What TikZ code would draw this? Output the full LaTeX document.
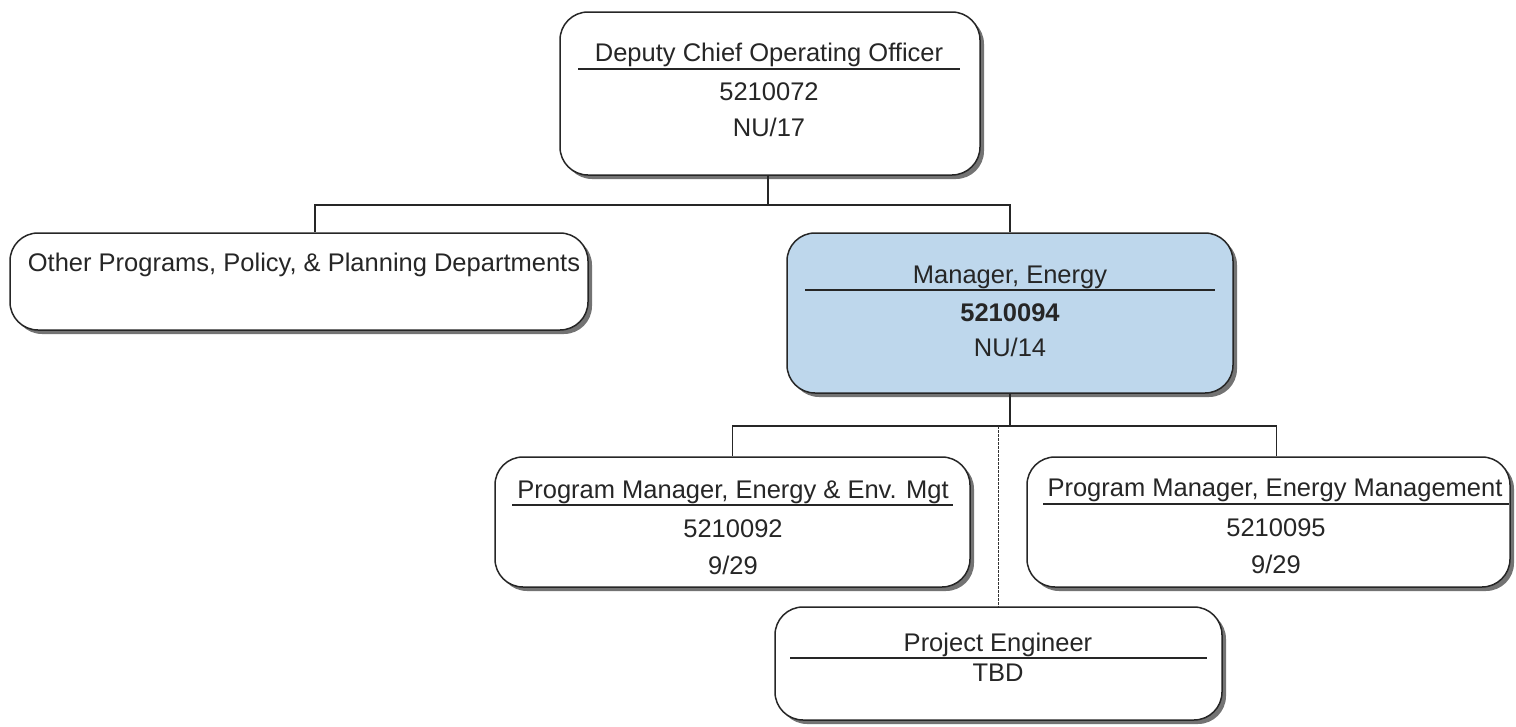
\documentclass[tikz,border=0pt]{standalone}
\usepackage{fontspec}
\setmainfont{Liberation Sans}
\usetikzlibrary{shadows}
\definecolor{mgrblue}{RGB}{190,215,236}
\definecolor{shadowgray}{RGB}{115,115,115}
\begin{document}
\begin{tikzpicture}[x=1pt,y=-1pt,
  box/.style={draw=black!85, line width=1.5pt, fill=white, rounded corners=28pt,
    rectangle, inner sep=0pt,
    drop shadow={shadow xshift=4pt, shadow yshift=-4pt, fill=shadowgray, opacity=1}},
  txt/.style={font=\fontsize{25.5}{30}\selectfont, text=black!85, inner sep=0pt},
  btxt/.style={txt, font=\fontsize{25.5}{30}\selectfont\bfseries},
  rule/.style={line width=1.7pt, black!85},
  conn/.style={line width=1.5pt, black!85},
  dconn/.style={line width=1.4pt, black!80, dash pattern=on 2.5pt off 1.5pt}]
\useasboundingbox (0,0) rectangle (1516,726);
% boxes
\node[box, minimum width=420pt, minimum height=163pt] (top) at (770,93.5) {};
\node[box, minimum width=578pt, minimum height=97pt] (other) at (299,281.5) {};
\node[box, fill=mgrblue, minimum width=446pt, minimum height=160pt] (mgr) at (1010,313) {};
\node[box, minimum width=475pt, minimum height=130pt] (pml) at (732.5,522) {};
\node[box, minimum width=483pt, minimum height=130pt] (pmr) at (1268.5,522) {};
\node[box, minimum width=447pt, minimum height=113pt] (pe) at (998.5,663.5) {};
% texts
\node[txt] (t1) at (769,55) {Deputy Chief Operating Officer};
\draw[rule] (578,69) -- (960,69);
\node[txt] (t2) at (769,92) {5210072};
\node[txt] (t3) at (769,127) {NU/17};
\node[txt] (o1) at (304,265) {Other Programs, Policy, \& Planning Departments};
\node[txt] (m1) at (1010,277) {Manager, Energy};
\draw[rule] (805,290) -- (1215,290);
\node[btxt] (m2) at (1010,313) {5210094};
\node[txt] (m3) at (1010,347) {NU/14};
\node[txt] (l1) at (733,492) {Program Manager, Energy \& Env. Mgt};
\draw[rule] (512,505) -- (953,505);
\node[txt] (l2) at (733,529) {5210092};
\node[txt] (l3) at (733,565) {9/29};
\node[txt] (r1) at (1275,490) {Program Manager, Energy Management};
\draw[rule] (1043,504) -- (1509,504);
\node[txt] (r2) at (1276,528) {5210095};
\node[txt] (r3) at (1276,564) {9/29};
\node[txt] (p1) at (998,645) {Project Engineer};
\draw[rule] (790,658) -- (1207,658);
\node[txt] (p2) at (998,673) {TBD};
% connectors
\coordinate (b1) at (768,205);
\draw[conn] ([xshift=-2pt]top.south) -- (b1);
\draw[conn] (b1) -| ([xshift=16pt]other.north);
\draw[conn] (b1) -| (mgr.north);
\coordinate (b2) at (1010,426);
\draw[conn] (mgr.south) -- (b2);
\draw[conn] (b2) -| (pml.north);
\draw[conn] (b2) -| ([xshift=8pt]pmr.north);
\draw[dconn] (b2 -| pe.north) -- (pe.north);
\end{tikzpicture}
\end{document}
